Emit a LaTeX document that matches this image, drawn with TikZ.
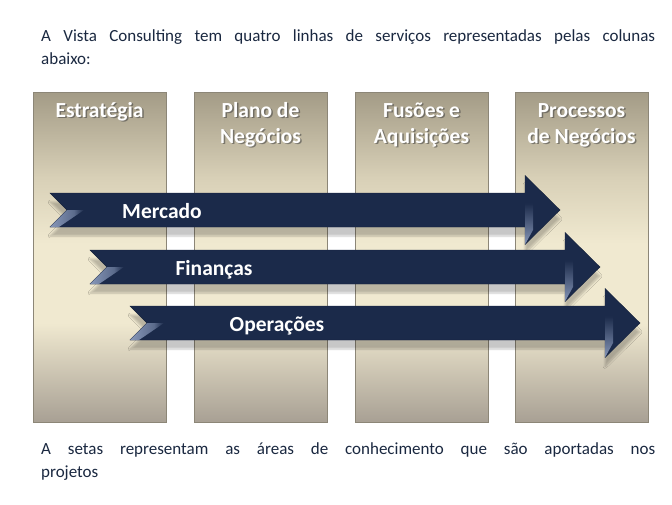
\documentclass[tikz,border=0pt]{standalone}
\usepackage{fontspec}
\setmainfont{Carlito}
\usetikzlibrary{shadows,shadows.blur,calc}
\definecolor{txt}{HTML}{1A2840}
\definecolor{navy}{HTML}{1B2A4A}
\definecolor{colTop}{HTML}{A39B86}
\definecolor{colMidA}{HTML}{D8D0B7}
\definecolor{colMidB}{HTML}{F0E9D0}
\definecolor{colBot}{HTML}{A8A094}
\definecolor{colEdge}{HTML}{8C8677}
\definecolor{bevel}{HTML}{8797B8}
\pgfdeclareverticalshading{colshade}{100bp}{color(0bp)=(colBot); color(25bp)=(colBot); color(40bp)=(colMidB); color(52bp)=(colMidB); color(62bp)=(colMidA); color(75bp)=(colTop); color(100bp)=(colTop)}
\pgfdeclareverticalshading{bevshade}{100bp}{color(0bp)=(bevel); color(25bp)=(bevel); color(55bp)=(navy); color(75bp)=(navy); color(100bp)=(navy)}
\pgfdeclarehorizontalshading{tailshade}{100bp}{color(0bp)=(bevel); color(25bp)=(bevel); color(60bp)=(bevel!60!navy); color(75bp)=(navy); color(100bp)=(navy)}
\tikzset{
  column/.style={draw=colEdge, line width=0.8pt, shading=colshade},
  hdr/.style={text=white, font=\bfseries\fontsize{21.5}{26}\selectfont, align=center, inner sep=0pt},
  hdrsh/.style={text=black!75, opacity=0.55, font=\bfseries\fontsize{21.5}{26}\selectfont, align=center, inner sep=0pt},
  arrowbody/.style={fill=navy, draw=navy!80!black, line width=0.4pt,
     blur shadow={shadow xshift=0pt, shadow yshift=-9pt, shadow opacity=22, shadow blur steps=6}},
  alabel/.style={text=white, font=\bfseries\fontsize{21.5}{24}\selectfont, inner sep=0pt},
  para/.style={text=txt, font=\fontsize{17}{23}\selectfont, inner sep=0pt, anchor=base west}
}
\newcommand{\serarrow}[5]{% #1 tail x, #2 center y, #3 head base x, #4 tip x, #5 name
  \path[arrowbody] (#1,#2-17) -- (#3,#2-17) -- (#3,#2-34.5) -- (#4,#2) -- (#3,#2+34.5) -- (#3,#2+17) -- (#1,#2+17) -- (#1+17,#2) -- cycle;
  \shade[shading=bevshade] (#3,#2-34.5) -- (#3+8,#2-20) -- (#3+8,#2+20) -- (#3,#2+34.5) -- cycle;
  \shade[shading=tailshade] (#1+17,#2) -- (#1+34,#2) -- (#1+9,#2+17) -- (#1,#2+17) -- cycle;
  \coordinate (#5) at (#1,#2);
}
\begin{document}
\begin{tikzpicture}[x=1pt,y=-1pt]
\useasboundingbox (0,0) rectangle (672,504);
\fill[white] (0,0) rectangle (672,504);
% columns
\foreach \x/\n/\b in {33/c1/117,194/c2/143,355/c3/143,515/c4/143}{
  \path[column] (\x,92) rectangle (\x+133,422);
  \coordinate (\n) at (\x+66.5,\b);
}
% headers (anchor base = baseline of last line)
\foreach \n/\t in {c1/{Estratégia},c2/{Plano de\\Negócios},c3/{Fusões e\\Aquisições},c4/{Processos\\de Negócios}}{
  \node[hdrsh, anchor=base] at ($(\n)+(1.5,1.5)$) {\t};
  \node[hdr, anchor=base] (h\n) at (\n) {\t};
}
% arrows
\serarrow{50}{210}{525}{560}{a1}
\serarrow{90}{267}{565}{600}{a2}
\serarrow{130}{323}{605}{640}{a3}
\node[alabel, anchor=base] (l1) at (162,218) {Mercado};
\node[alabel, anchor=base] (l2) at (214,275) {Finanças};
\node[alabel, anchor=base] (l3) at (277,331) {Operações};
% texts
\node[para] (top1) at (41,41) {\makebox[614pt][s]{A Vista Consulting tem quatro linhas de serviços representadas pelas colunas}};
\node[para] (top2) at (41,64) {abaixo:};
\node[para] (bot1) at (41,454) {\makebox[614pt][s]{A setas representam as áreas de conhecimento que são aportadas nos}};
\node[para] (bot2) at (41,477) {projetos};
\end{tikzpicture}
\end{document}
